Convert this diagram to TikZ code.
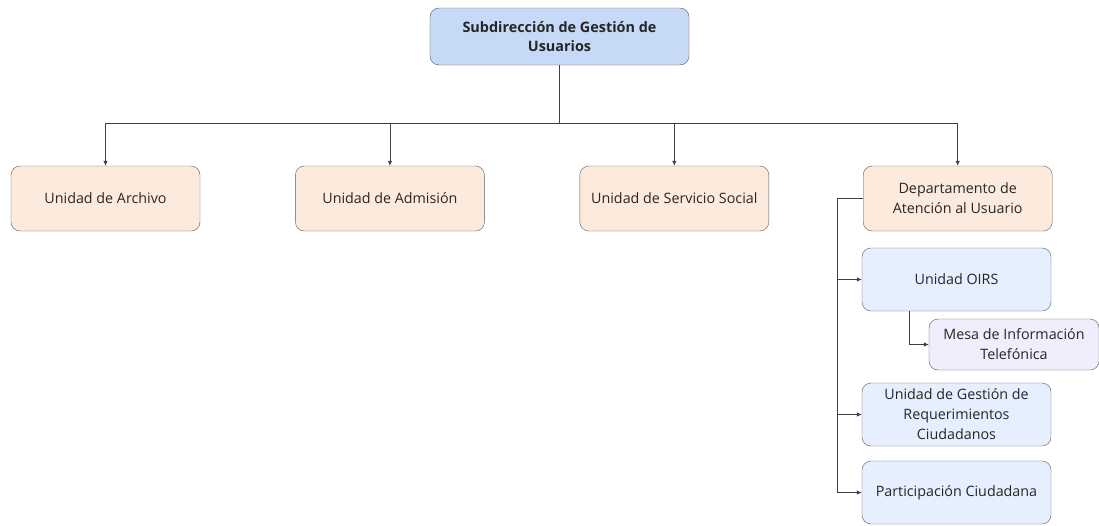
\documentclass[tikz,border=0pt]{standalone}
\usepackage{fontspec}
\setmainfont{Open Sans}
\usetikzlibrary{positioning,arrows.meta}
\definecolor{headblue}{HTML}{C6D9F7}
\definecolor{unitorange}{HTML}{FCEBDD}
\definecolor{subblue}{HTML}{E5EFFD}
\definecolor{mesalilac}{HTML}{EFEEFC}
\definecolor{edgegray}{HTML}{5A5A5A}
\tikzset{
    every node/.style={font=\fontsize{14.3}{20}\selectfont, text=black!85},
    headbox/.style={draw=edgegray, fill=headblue, rounded corners=9pt, align=center, minimum width=259pt, minimum height=57pt, font=\fontsize{14.4}{19.5}\selectfont\bfseries},
    unitbox/.style={draw=edgegray, fill=unitorange, rounded corners=9pt, align=center, minimum width=189pt, minimum height=65pt},
    subbox/.style={draw=edgegray, fill=subblue, rounded corners=9pt, align=center, minimum width=189pt, minimum height=63pt},
    mesabox/.style={draw=edgegray, fill=mesalilac, rounded corners=9pt, align=center, minimum width=170pt, minimum height=51pt},
    link/.style={draw=black!75, line width=0.8pt},
    arrow/.style={-{Latex[length=5pt,width=4.5pt]}, draw=black!75, line width=0.8pt},
}

\begin{document}
\begin{tikzpicture}[x=1pt,y=-1pt]
\useasboundingbox (0,0) rectangle (1099,525);
% top level
\node[headbox] (sub) at (559.5,36.5) {Subdirección de Gestión de\\Usuarios};

% units row
\node[unitbox] (archivo) at (105.5,198.5) {Unidad de Archivo};
\node[unitbox,right=95pt of archivo] (admision) {Unidad de Admisión};
\node[unitbox,right=95pt of admision] (social) {Unidad de Servicio Social};
\node[unitbox,right=94pt of social] (depto) {Departamento de\\Atención al Usuario};

% department children
\node[subbox] (oirs) at (956.5,279.5) {Unidad OIRS};
\node[mesabox] (mesa) at (1014,344.5) {Mesa de Información\\Telefónica};
\node[subbox] (gestion) at (956.5,414.5) {Unidad de Gestión de\\Requerimientos\\Ciudadanos};
\node[subbox] (partic) at (956.5,492.5) {Participación Ciudadana};

% bus lines
\coordinate (bus) at (559.5,123);
\coordinate (spine) at (837,198.5);
\draw[link] (sub) -- (bus);
\draw[link] (archivo.north |- bus) -- (depto.north |- bus);
\foreach \u in {archivo,admision,social,depto}{
  \draw[arrow] (\u.north |- bus) -- (\u.north);
}

\draw[link] (depto.west) -- (spine) -- (spine |- partic.west);
\foreach \s in {oirs,gestion,partic}{
  \draw[arrow] (spine |- \s.west) -- (\s.west);
}
\draw[arrow] ([xshift=-47pt]oirs.south) |- (mesa.west);

\end{tikzpicture}
\end{document}
